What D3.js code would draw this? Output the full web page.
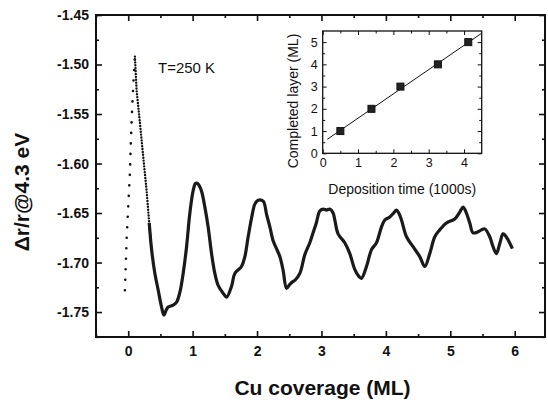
<!DOCTYPE html>
<html>
<head>
<meta charset="utf-8">
<script src="https://cdn.jsdelivr.net/npm/d3@7"></script>
<style>
  body { margin: 0; background: #fff; }
  svg { display: block; font-family: "Liberation Sans", Arial, sans-serif; }
</style>
</head>
<body>
<div id="chart"></div>
<script>
// rising sweep (sparse dots) and the falling sweep (dense dots) at the start
const riseCov = [-0.051, -0.025, 0.0, 0.026, 0.042, 0.062, 0.088, 0.104];
const riseVal = [-1.728, -1.677, -1.644, -1.610, -1.576, -1.543, -1.509, -1.492];
const fallCov = [0.104, 0.13, 0.182, 0.233, 0.285, 0.326, 0.363];
const fallVal = [-1.492, -1.526, -1.559, -1.593, -1.627, -1.660, -1.687];

// main oscillation curve
const coverage = [0.326, 0.363, 0.414, 0.466, 0.518, 0.554, 0.590, 0.621, 0.698, 0.751, 0.802,
  0.853, 0.906, 0.957, 1.009, 1.045, 1.071, 1.100, 1.139, 1.190, 1.241,
  1.294, 1.345, 1.396, 1.474, 1.527, 1.604, 1.655, 1.759, 1.811, 1.862,
  1.915, 1.966, 2.017, 2.095, 2.150, 2.199, 2.250, 2.302, 2.354, 2.405,
  2.458, 2.509, 2.560, 2.587, 2.664, 2.742, 2.819, 2.870, 2.920, 2.974,
  3.026, 3.078, 3.130, 3.181, 3.207, 3.258, 3.362, 3.440, 3.517, 3.580,
  3.621, 3.699, 3.777, 3.854, 3.932, 3.983, 4.061, 4.120, 4.164, 4.200,
  4.242, 4.320, 4.422, 4.526, 4.604, 4.681, 4.759, 4.836, 4.940, 5.069,
  5.147, 5.198, 5.250, 5.302, 5.353, 5.431, 5.483, 5.535, 5.612, 5.663,
  5.716, 5.767, 5.818, 5.845, 5.896, 5.964];
const reflect = [-1.660, -1.687, -1.711, -1.728, -1.745, -1.753, -1.748, -1.745, -1.743, -1.740, -1.730,
  -1.711, -1.684, -1.650, -1.627, -1.620, -1.620, -1.622, -1.628, -1.644, -1.664,
  -1.691, -1.711, -1.723, -1.731, -1.735, -1.724, -1.711, -1.704, -1.694, -1.674,
  -1.655, -1.641, -1.637, -1.638, -1.652, -1.664, -1.678, -1.686, -1.694, -1.708,
  -1.726, -1.722, -1.719, -1.718, -1.711, -1.692, -1.680, -1.670, -1.660, -1.648,
  -1.646, -1.647, -1.646, -1.650, -1.657, -1.671, -1.680, -1.691, -1.707, -1.714,
  -1.716, -1.704, -1.687, -1.680, -1.664, -1.657, -1.654, -1.650, -1.647, -1.650,
  -1.657, -1.674, -1.684, -1.694, -1.704, -1.691, -1.674, -1.667, -1.660, -1.656,
  -1.649, -1.644, -1.650, -1.660, -1.670, -1.669, -1.667, -1.666, -1.674, -1.684,
  -1.691, -1.681, -1.671, -1.672, -1.677, -1.686];

const xTicks = [0, 1, 2, 3, 4, 5, 6];
const yTicks = [-1.75, -1.70, -1.65, -1.60, -1.55, -1.50, -1.45];

// inset: completed layer vs deposition time
const depTime = [0.5, 1.38, 2.2, 3.26, 4.12];
const layer = [1, 2, 3, 4, 5];
const fitTime = [0.13, 4.5];
const fitLayer = [0.63, 5.4];
const insetXTicks = [0, 1, 2, 3, 4];
const insetYTicks = [0, 1, 2, 3, 4, 5];

const W = 548, H = 405;
const svg = d3.select("#chart").append("svg")
    .attr("width", W)
    .attr("height", H);

// ----- main plot -----
const pL = 96, pR = 545, pT = 15, pB = 337;

const x = d3.scaleLinear().domain([-0.5, 6.47]).range([pL, pR]);
const y = d3.scaleLinear().domain([-1.7752, -1.45]).range([pB, pT]);

const halfX = [-0.5, 0.5, 1.5, 2.5, 3.5, 4.5, 5.5];
const halfY = [-1.775, -1.725, -1.675, -1.625, -1.575, -1.525, -1.475];

function axisGroup(axis, tx, ty) {
    const g = svg.append("g")
        .attr("transform", `translate(${tx},${ty})`)
        .call(axis);
    g.select(".domain").remove();
    g.selectAll("line").attr("stroke", "#111").attr("stroke-width", 1.6);
    return g;
}

const bx = axisGroup(d3.axisBottom(x).tickValues(xTicks).tickSizeInner(-6).tickSizeOuter(0).tickPadding(9).tickFormat(d3.format("d")), 0, pB);
bx.selectAll("text").attr("font-size", 14).attr("font-weight", "bold").attr("fill", "#111");
axisGroup(d3.axisBottom(x).tickValues(halfX).tickSizeInner(-3).tickSizeOuter(0).tickFormat(""), 0, pB);
axisGroup(d3.axisTop(x).tickValues(xTicks).tickSizeInner(-6).tickSizeOuter(0).tickFormat(""), 0, pT);
axisGroup(d3.axisTop(x).tickValues(halfX).tickSizeInner(-3).tickSizeOuter(0).tickFormat(""), 0, pT);

const ly = axisGroup(d3.axisLeft(y).tickValues(yTicks).tickSizeInner(-6).tickSizeOuter(0).tickPadding(7).tickFormat(d => d.toFixed(2)), pL, 0);
ly.selectAll("text").attr("font-size", 14).attr("font-weight", "bold").attr("fill", "#111");
axisGroup(d3.axisLeft(y).tickValues(halfY).tickSizeInner(-3).tickSizeOuter(0).tickFormat(""), pL, 0);
axisGroup(d3.axisRight(y).tickValues(yTicks).tickSizeInner(-6).tickSizeOuter(0).tickFormat(""), pR, 0);
axisGroup(d3.axisRight(y).tickValues(halfY).tickSizeInner(-3).tickSizeOuter(0).tickFormat(""), pR, 0);

svg.append("rect")
    .attr("x", pL).attr("y", pT)
    .attr("width", pR - pL).attr("height", pB - pT)
    .attr("fill", "none").attr("stroke", "#111").attr("stroke-width", 2);

const line = d3.line().x(d => x(d[0])).y(d => y(d[1]));

// sparse dotted rise
svg.append("path")
    .datum(d3.zip(riseCov, riseVal))
    .attr("d", line)
    .attr("fill", "none").attr("stroke", "#111")
    .attr("stroke-width", 2.6).attr("stroke-linecap", "round")
    .attr("stroke-dasharray", "0,10.5");

// dense dotted fall
svg.append("path")
    .datum(d3.zip(fallCov, fallVal))
    .attr("d", line)
    .attr("fill", "none").attr("stroke", "#111")
    .attr("stroke-width", 2.4).attr("stroke-linecap", "round")
    .attr("stroke-dasharray", "0,2.9");

// continuous oscillation
svg.append("path")
    .datum(d3.zip(coverage, reflect))
    .attr("d", d3.line().x(d => x(d[0])).y(d => y(d[1])).curve(d3.curveCatmullRom))
    .attr("fill", "none").attr("stroke", "#1a1a1a")
    .attr("stroke-width", 3.2).attr("stroke-linejoin", "round");

svg.append("text")
    .attr("x", 158).attr("y", 73)
    .attr("font-size", 15).attr("fill", "#111")
    .text("T=250 K");

svg.append("text")
    .attr("x", (pL + pR) / 2 + 2).attr("y", 395)
    .attr("text-anchor", "middle")
    .attr("font-size", 21).attr("font-weight", "bold").attr("fill", "#111")
    .text("Cu coverage (ML)");

svg.append("text")
    .attr("transform", "translate(29,192) rotate(-90)")
    .attr("text-anchor", "middle")
    .attr("font-size", 21).attr("font-weight", "bold").attr("fill", "#111")
    .text("Δr/r@4.3 eV");

// ----- inset -----
const iL = 322.7, iR = 481.7, iT = 31, iB = 153.3;
const xi = d3.scaleLinear().domain([0, 4.5]).range([iL, iR]);
const yi = d3.scaleLinear().domain([0, 5.5]).range([iB, iT]);

function insetAxis(axis, tx, ty) {
    const g = svg.append("g")
        .attr("transform", `translate(${tx},${ty})`)
        .call(axis);
    g.select(".domain").remove();
    g.selectAll("line").attr("stroke", "#111").attr("stroke-width", 1);
    g.selectAll("text").attr("font-size", 12.5).attr("fill", "#111");
    return g;
}
const iHalfX = [0.5, 1.5, 2.5, 3.5];
const iHalfY = [0.5, 1.5, 2.5, 3.5, 4.5];

insetAxis(d3.axisBottom(xi).tickValues(insetXTicks).tickSizeInner(-4).tickSizeOuter(0).tickPadding(5).tickFormat(d3.format("d")), 0, iB);
insetAxis(d3.axisBottom(xi).tickValues(iHalfX).tickSizeInner(-2.5).tickSizeOuter(0).tickFormat(""), 0, iB);
insetAxis(d3.axisTop(xi).tickValues(insetXTicks).tickSizeInner(-4).tickSizeOuter(0).tickFormat(""), 0, iT);
insetAxis(d3.axisTop(xi).tickValues(iHalfX).tickSizeInner(-2.5).tickSizeOuter(0).tickFormat(""), 0, iT);
insetAxis(d3.axisLeft(yi).tickValues(insetYTicks).tickSizeInner(-4).tickSizeOuter(0).tickPadding(5).tickFormat(d3.format("d")), iL, 0);
insetAxis(d3.axisLeft(yi).tickValues(iHalfY).tickSizeInner(-2.5).tickSizeOuter(0).tickFormat(""), iL, 0);
insetAxis(d3.axisRight(yi).tickValues(insetYTicks).tickSizeInner(-4).tickSizeOuter(0).tickFormat(""), iR, 0);
insetAxis(d3.axisRight(yi).tickValues(iHalfY).tickSizeInner(-2.5).tickSizeOuter(0).tickFormat(""), iR, 0);

svg.append("rect")
    .attr("x", iL).attr("y", iT)
    .attr("width", iR - iL).attr("height", iB - iT)
    .attr("fill", "none").attr("stroke", "#111").attr("stroke-width", 1.3);

svg.append("path")
    .datum(d3.zip(fitTime, fitLayer))
    .attr("d", d3.line().x(d => xi(d[0])).y(d => yi(d[1])))
    .attr("fill", "none").attr("stroke", "#111").attr("stroke-width", 1);

svg.selectAll(".sq")
    .data(d3.zip(depTime, layer))
    .enter().append("rect")
    .attr("class", "sq")
    .attr("x", d => xi(d[0]) - 3.5)
    .attr("y", d => yi(d[1]) - 3.5)
    .attr("width", 7).attr("height", 7)
    .attr("fill", "#222").attr("stroke", "#111").attr("stroke-width", 1);

svg.append("text")
    .attr("x", (iL + iR) / 2).attr("y", 194)
    .attr("text-anchor", "middle")
    .attr("font-size", 14).attr("fill", "#111")
    .text("Deposition time (1000s)");

svg.append("text")
    .attr("transform", "translate(298,101) rotate(-90)")
    .attr("text-anchor", "middle")
    .attr("font-size", 14).attr("fill", "#111")
    .text("Completed layer (ML)");
</script>
</body>
</html>
